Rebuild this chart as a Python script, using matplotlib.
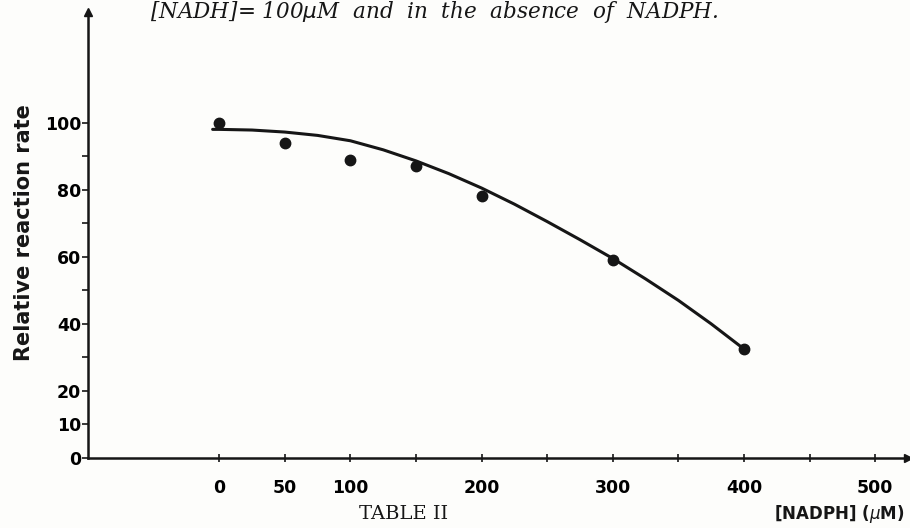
import matplotlib.pyplot as plt

# measured points
nadph = [0, 50, 100, 150, 200, 300, 400]
rate = [100, 94, 89, 87, 78, 59, 32.5]

# drawn curve
curve_x = [-5, 0, 25, 50, 75, 100, 125, 150, 175, 200, 225, 250, 275, 300,
           325, 350, 375, 400]
curve_y = [98, 98, 97.8, 97.2, 96.2, 94.6, 91.9, 88.6, 84.8, 80.5, 75.7,
           70.5, 65.1, 59.5, 53.4, 47, 40, 32.5]

x_ticks = [0, 50, 100, 150, 200, 250, 300, 350, 400, 450, 500]
x_labels = ["0", "50", "100", "", "200", "", "300", "", "400", "", "500"]
y_ticks = [0, 10, 20, 30, 40, 50, 60, 70, 80, 90, 100]
y_labels = ["0", "10", "20", "", "40", "", "60", "", "80", "", "100"]

bg = "#fdfdfb"
ink = "#161616"
tick_font = {"family": "Liberation Sans Narrow", "weight": "bold", "size": 12.5}

fig = plt.figure(figsize=(9.1, 5.28), dpi=100, facecolor=bg)
ax = fig.add_axes([88 / 910, 70 / 528, 820 / 910, 446 / 528], facecolor=bg)

ax.plot(curve_x, curve_y, color=ink, lw=2.2, solid_capstyle="round",
        solid_joinstyle="round")
ax.plot(nadph, rate, "o", color=ink, ms=7.5)

ax.set_xlim(-100, 525)
ax.set_ylim(0, 133)

# arrow axes
for s in ["top", "right"]:
    ax.spines[s].set_visible(False)
for s in ["left", "bottom"]:
    ax.spines[s].set_color(ink)
    ax.spines[s].set_linewidth(1.8)
ax.plot(1, 0, ">", color=ink, ms=6, transform=ax.transAxes, clip_on=False)
ax.plot(0, 1, "^", color=ink, ms=6, transform=ax.transAxes, clip_on=False)

ax.set_xticks(x_ticks)
ax.set_xticklabels(x_labels, fontdict=tick_font)
ax.set_yticks(y_ticks)
ax.set_yticklabels(y_labels, fontdict=tick_font)
ax.tick_params(axis="x", direction="inout", length=6, width=1.2, color=ink, pad=12)
ax.tick_params(axis="y", direction="out", length=4, width=1.2, color=ink, pad=1)

fig.text(0.026, 1 - 233 / 528, "Relative reaction rate", rotation=90, ha="center",
         va="center", fontsize=15, fontweight="bold", color=ink, family="DejaVu Sans")
fig.text(150 / 910, 1 - 12 / 528, "[NADH]= 100$\\mu$M  and  in  the  absence  of  NADPH.",
         ha="left", va="center", fontsize=15.5, style="italic", family="DejaVu Serif",
         color=ink)
fig.text(404 / 910, 1 - 514 / 528, "TABLE II", ha="center", va="center",
         fontsize=14, family="DejaVu Serif", color=ink)
fig.text(905 / 910, 1 - 514 / 528, "[NADPH] ($\\mu$M)", ha="right", va="center",
         fontsize=12, fontweight="bold", family="DejaVu Sans", color=ink)

fig.savefig("out.png", dpi=100, facecolor=bg)
